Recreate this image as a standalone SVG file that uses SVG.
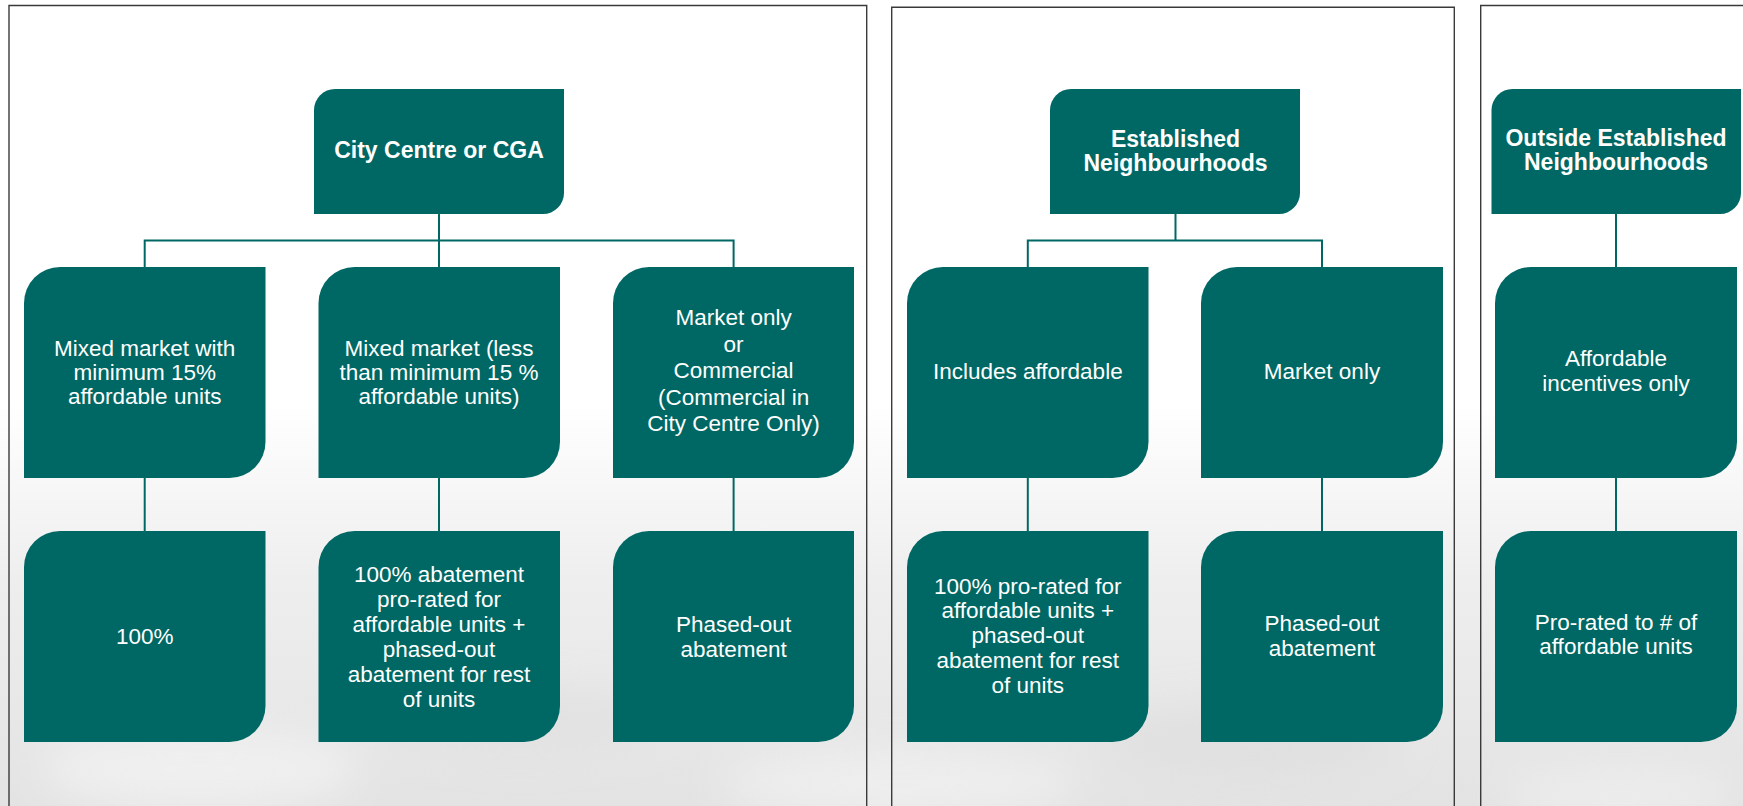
<svg xmlns="http://www.w3.org/2000/svg" width="1743" height="806" viewBox="0 0 1743 806">
  <defs>
    <linearGradient id="sky" x1="0" y1="0" x2="0" y2="1">
      <stop offset="0" stop-color="#ffffff"/>
      <stop offset="0.5" stop-color="#ffffff"/>
      <stop offset="0.72" stop-color="#eeeeee"/>
      <stop offset="1" stop-color="#e3e3e3"/>
    </linearGradient>
    <filter id="blur" x="-50%" y="-50%" width="200%" height="200%">
      <feGaussianBlur stdDeviation="20"/>
    </filter>
    <style>
      .panel { fill: none; stroke: #3a3a3a; stroke-width: 1.4; }
      .box { fill: #006864; }
      .conn { fill: none; stroke: #006864; stroke-width: 2; }
      .t { font-family: "Liberation Sans", Arial, sans-serif; font-size: 22.5px; fill: #ffffff; text-anchor: middle; }
      .tb { font-family: "Liberation Sans", Arial, sans-serif; font-size: 23px; font-weight: bold; fill: #ffffff; text-anchor: middle; }
    </style>
  </defs>

  <!-- background -->
  <rect x="0" y="0" width="1743" height="806" fill="url(#sky)"/>
  <g filter="url(#blur)" opacity="0.6">
    <ellipse cx="200" cy="770" rx="160" ry="40" fill="#f7f7f7"/>
    <ellipse cx="520" cy="720" rx="140" ry="30" fill="#dedede"/>
    <ellipse cx="900" cy="785" rx="180" ry="35" fill="#f5f5f5"/>
    <ellipse cx="1250" cy="740" rx="150" ry="35" fill="#dcdcdc"/>
    <ellipse cx="1620" cy="795" rx="120" ry="28" fill="#f3f3f3"/>
  </g>

  <!-- panels -->
  <g id="panels">
    <path class="panel" d="M9,810 V5.5 H866.7 V810"/>
    <path class="panel" d="M891.7,810 V7.3 H1454.3 V810"/>
    <path class="panel" d="M1480.7,810 V5.5 H1750"/>
  </g>

  <!-- connectors -->
  <g id="connectors">
    <path class="conn" d="M439,214 V267"/>
    <path class="conn" d="M144.7,267 V240.5 H733.6 V267"/>
    <path class="conn" d="M144.7,478 V531"/>
    <path class="conn" d="M439,478 V531"/>
    <path class="conn" d="M733.6,478 V531"/>
    <path class="conn" d="M1175.5,214 V240.5"/>
    <path class="conn" d="M1027.8,267 V240.5 H1322 V267"/>
    <path class="conn" d="M1027.8,478 V531"/>
    <path class="conn" d="M1322,478 V531"/>
    <path class="conn" d="M1616,214 V267"/>
    <path class="conn" d="M1616,478 V531"/>
  </g>

  <!-- panel 1 -->
  <g id="node-city-centre">
    <path class="box" d="M335,89 H564 V193 A21,21 0 0 1 543,214 H314 V110 A21,21 0 0 1 335,89 Z"/>
    <text class="tb" x="439" y="158">City Centre or CGA</text>
  </g>
  <g id="node-mixed-15">
    <path class="box" d="M60,267 H265.5 V442 A36,36 0 0 1 229.5,478 H24 V303 A36,36 0 0 1 60,267 Z"/>
    <text class="t" x="144.7" y="356">Mixed market with</text>
    <text class="t" x="144.7" y="380">minimum 15%</text>
    <text class="t" x="144.7" y="404">affordable units</text>
  </g>
  <g id="node-mixed-less">
    <path class="box" d="M354.5,267 H560 V442 A36,36 0 0 1 524,478 H318.5 V303 A36,36 0 0 1 354.5,267 Z"/>
    <text class="t" x="439" y="356">Mixed market (less</text>
    <text class="t" x="439" y="380">than minimum 15 %</text>
    <text class="t" x="439" y="404">affordable units)</text>
  </g>
  <g id="node-market-commercial">
    <path class="box" d="M649,267 H854 V442 A36,36 0 0 1 818,478 H613 V303 A36,36 0 0 1 649,267 Z"/>
    <text class="t" x="733.6" y="325">Market only</text>
    <text class="t" x="733.6" y="351.5">or</text>
    <text class="t" x="733.6" y="378">Commercial</text>
    <text class="t" x="733.6" y="404.5">(Commercial in</text>
    <text class="t" x="733.6" y="431">City Centre Only)</text>
  </g>
  <g id="node-100">
    <path class="box" d="M60,531 H265.5 V706 A36,36 0 0 1 229.5,742 H24 V567 A36,36 0 0 1 60,531 Z"/>
    <text class="t" x="144.7" y="644">100%</text>
  </g>
  <g id="node-abatement-prorated">
    <path class="box" d="M354.5,531 H560 V706 A36,36 0 0 1 524,742 H318.5 V567 A36,36 0 0 1 354.5,531 Z"/>
    <text class="t" x="439" y="582">100% abatement</text>
    <text class="t" x="439" y="607">pro-rated for</text>
    <text class="t" x="439" y="632">affordable units +</text>
    <text class="t" x="439" y="657">phased-out</text>
    <text class="t" x="439" y="682">abatement for rest</text>
    <text class="t" x="439" y="707">of units</text>
  </g>
  <g id="node-phased-1">
    <path class="box" d="M649,531 H854 V706 A36,36 0 0 1 818,742 H613 V567 A36,36 0 0 1 649,531 Z"/>
    <text class="t" x="733.6" y="631.5">Phased-out</text>
    <text class="t" x="733.6" y="656.5">abatement</text>
  </g>

  <!-- panel 2 -->
  <g id="node-established">
    <path class="box" d="M1071,89 H1300 V193 A21,21 0 0 1 1279,214 H1050 V110 A21,21 0 0 1 1071,89 Z"/>
    <text class="tb" x="1175.5" y="147">Established</text>
    <text class="tb" x="1175.5" y="171">Neighbourhoods</text>
  </g>
  <g id="node-includes-affordable">
    <path class="box" d="M943,267 H1148.5 V442 A36,36 0 0 1 1112.5,478 H907 V303 A36,36 0 0 1 943,267 Z"/>
    <text class="t" x="1027.8" y="379">Includes affordable</text>
  </g>
  <g id="node-market-only">
    <path class="box" d="M1237,267 H1443 V442 A36,36 0 0 1 1407,478 H1201 V303 A36,36 0 0 1 1237,267 Z"/>
    <text class="t" x="1322" y="379">Market only</text>
  </g>
  <g id="node-prorated-100">
    <path class="box" d="M943,531 H1148.5 V706 A36,36 0 0 1 1112.5,742 H907 V567 A36,36 0 0 1 943,531 Z"/>
    <text class="t" x="1027.8" y="593.5">100% pro-rated for</text>
    <text class="t" x="1027.8" y="618.3">affordable units +</text>
    <text class="t" x="1027.8" y="643">phased-out</text>
    <text class="t" x="1027.8" y="667.8">abatement for rest</text>
    <text class="t" x="1027.8" y="692.6">of units</text>
  </g>
  <g id="node-phased-2">
    <path class="box" d="M1237,531 H1443 V706 A36,36 0 0 1 1407,742 H1201 V567 A36,36 0 0 1 1237,531 Z"/>
    <text class="t" x="1322" y="631">Phased-out</text>
    <text class="t" x="1322" y="655.5">abatement</text>
  </g>

  <!-- panel 3 -->
  <g id="node-outside">
    <path class="box" d="M1512.5,89 H1741 V193 A21,21 0 0 1 1720,214 H1491.5 V110 A21,21 0 0 1 1512.5,89 Z"/>
    <text class="tb" x="1616" y="146">Outside Established</text>
    <text class="tb" x="1616" y="170">Neighbourhoods</text>
  </g>
  <g id="node-affordable-incentives">
    <path class="box" d="M1531,267 H1737 V442 A36,36 0 0 1 1701,478 H1495 V303 A36,36 0 0 1 1531,267 Z"/>
    <text class="t" x="1616" y="365.5">Affordable</text>
    <text class="t" x="1616" y="391">incentives only</text>
  </g>
  <g id="node-prorated-count">
    <path class="box" d="M1531,531 H1737 V706 A36,36 0 0 1 1701,742 H1495 V567 A36,36 0 0 1 1531,531 Z"/>
    <text class="t" x="1616" y="629.5">Pro-rated to # of</text>
    <text class="t" x="1616" y="654">affordable units</text>
  </g>
</svg>
